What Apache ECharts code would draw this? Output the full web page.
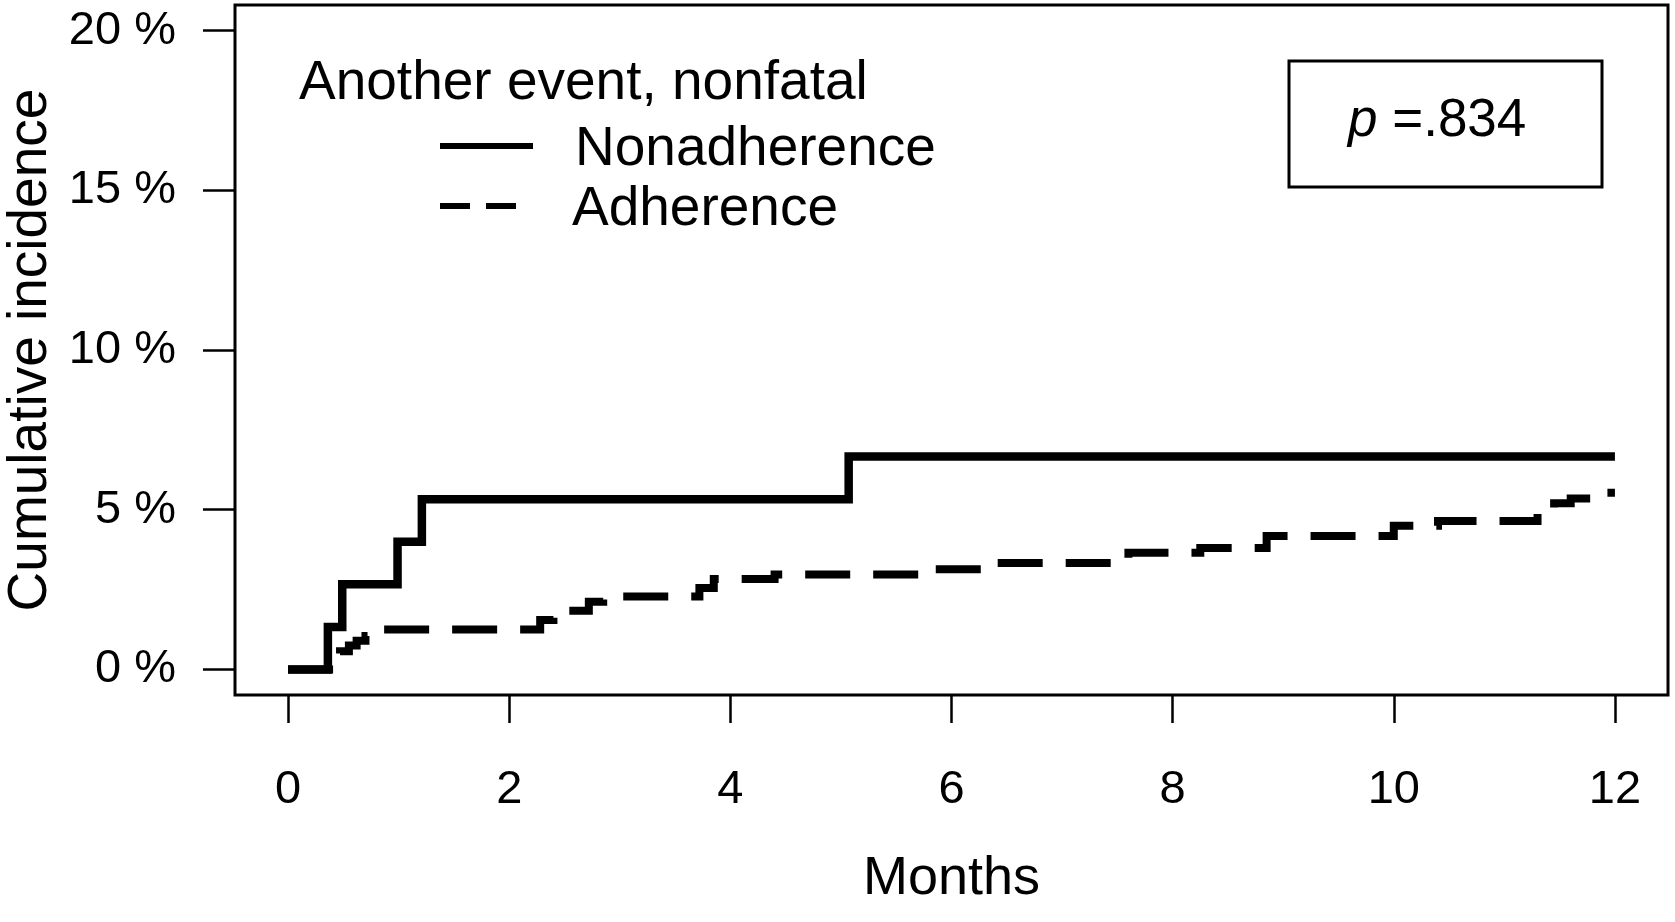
<!DOCTYPE html>
<html>
<head>
<meta charset="utf-8">
<script src="https://cdn.jsdelivr.net/npm/echarts@6/dist/echarts.min.js"></script>
<style>html,body{margin:0;padding:0;background:#fff;}#c{width:1675px;height:922px;}</style>
</head>
<body>
<div id="c"></div>
<script>
// ---- data ----
const xTicks = [0, 2, 4, 6, 8, 10, 12];
const yTicks = [0, 5, 10, 15, 20];
const nonadhTimes = [0, 0.36, 0.49, 0.99, 1.21, 5.07, 12];
const nonadhPct   = [0, 1.33, 2.67, 4.0, 5.33, 6.67, 6.67];
const adhTimes = [0, 0.47, 0.55, 0.62, 0.7, 0.8, 2.28, 2.4, 2.5, 2.72, 2.85, 3.72, 3.85, 4.4, 5.7, 6.3, 7.6, 8.25, 8.85, 10.0, 10.4, 11.3, 11.45, 11.6, 11.8, 12];
const adhPct   = [0, 0.57, 0.75, 0.9, 1.05, 1.25, 1.55, 1.7, 1.84, 2.12, 2.28, 2.55, 2.83, 2.97, 3.14, 3.33, 3.65, 3.8, 4.18, 4.5, 4.65, 5.06, 5.2, 5.35, 5.53, 5.53];
const seriesNames = ['Nonadherence', 'Adherence'];
const legendTitle = 'Another event, nonfatal';
const pText = ' =.834';

const FONT = '"Liberation Sans", Arial, Helvetica, sans-serif';
const chart = echarts.init(document.getElementById('c'), null, {renderer: 'canvas'});
const zip = (a, b) => a.map((v, i) => [v, b[i]]);

chart.setOption({
  animation: false,
  backgroundColor: '#fff',
  grid: {left: 235, right: 7, top: 5, bottom: 227, containLabel: false, outerBoundsMode: 'none',
         show: true, borderColor: '#000', borderWidth: 3, backgroundColor: 'transparent'},
  xAxis: {
    type: 'value', min: -0.48, max: 12.48,
    name: 'Months', nameLocation: 'middle', nameGap: 157,
    nameTextStyle: {fontFamily: FONT, fontSize: 54, color: '#000'},
    axisLine: {show: false, onZero: false},
    splitLine: {show: false},
    axisTick: {show: true, customValues: xTicks, length: 28, inside: false, lineStyle: {color: '#000', width: 2.5}},
    axisLabel: {customValues: xTicks, margin: 72, fontFamily: FONT, fontSize: 47, color: '#000'}
  },
  yAxis: {
    type: 'value', min: -0.8, max: 20.8,
    name: 'Cumulative incidence', nameLocation: 'middle', nameGap: 152,
    nameTextStyle: {fontFamily: FONT, fontSize: 55, color: '#000'},
    axisLine: {show: false, onZero: false},
    splitLine: {show: false},
    axisTick: {show: true, customValues: yTicks, length: 32, lineStyle: {color: '#000', width: 2.5}},
    axisLabel: {customValues: yTicks, margin: 59, fontFamily: FONT, fontSize: 47, color: '#000', formatter: v => v + ' %'}
  },
  series: [
    {name: seriesNames[1], type: 'line', step: 'end', symbol: 'none', data: zip(adhTimes, adhPct),
     lineStyle: {color: '#000', width: 8, type: [45, 23], cap: 'butt', join: 'miter'}},
    {name: seriesNames[0], type: 'line', step: 'end', symbol: 'none', data: zip(nonadhTimes, nonadhPct),
     lineStyle: {color: '#000', width: 8.5, type: 'solid', cap: 'butt', join: 'miter'}}
  ],
  graphic: [
    {type: 'text', left: 299, top: 88 - 32, style: {text: legendTitle, font: '55px ' + FONT, fill: '#000'}},
    {type: 'line', shape: {x1: 440, y1: 146, x2: 533, y2: 146}, style: {stroke: '#000', lineWidth: 6}},
    {type: 'text', left: 575, top: 154 - 32, style: {text: seriesNames[0], font: '55px ' + FONT, fill: '#000'}},
    {type: 'line', shape: {x1: 440, y1: 206, x2: 518, y2: 206}, style: {stroke: '#000', lineWidth: 6, lineDash: [30, 16]}},
    {type: 'text', left: 572, top: 214 - 32, style: {text: seriesNames[1], font: '55px ' + FONT, fill: '#000'}},
    {type: 'rect', shape: {x: 1289, y: 61, width: 313, height: 126}, style: {fill: 'none', stroke: '#000', lineWidth: 3}},
    {type: 'text', left: 1348, top: 126 - 31, style: {
      text: '{p|p}{r|' + pText + '}',
      rich: {p: {fontFamily: FONT, fontStyle: 'italic', fontSize: 53, fill: '#000'}, r: {fontFamily: FONT, fontSize: 53, fill: '#000'}}
    }}
  ]
});
</script>
</body>
</html>
